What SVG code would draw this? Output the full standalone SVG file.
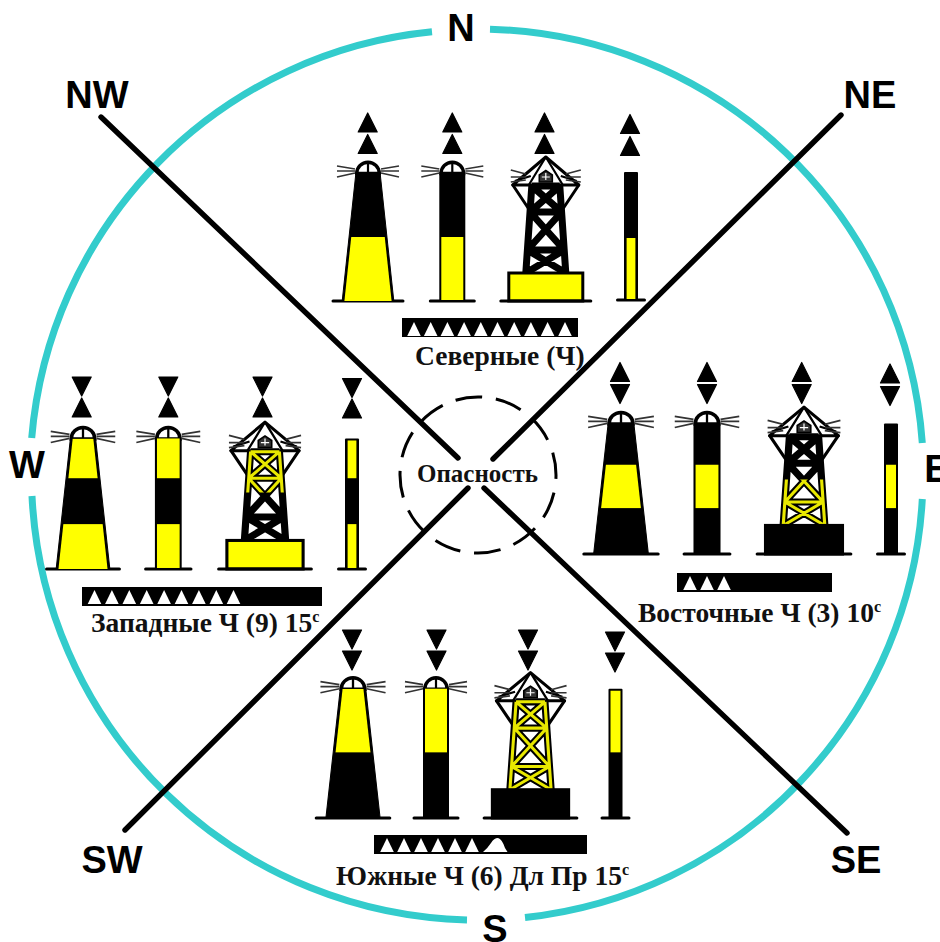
<svg xmlns="http://www.w3.org/2000/svg" xmlns:xlink="http://www.w3.org/1999/xlink" width="940" height="942" viewBox="0 0 940 942">
<style>
.ring{fill:none;stroke:#33cccc;stroke-width:7}
.ray{fill:none;stroke:#333;stroke-width:1.7}
.line{fill:none;stroke:#000;stroke-width:5.4;stroke-linecap:round}
.base{fill:none;stroke:#000;stroke-width:3;stroke-linecap:round}
.y{fill:#ffff00}
.k{fill:#000}
.w{fill:#fff}
.mark{fill:#000;stroke:#000;stroke-width:1.2;stroke-linejoin:round}
.dir{font-family:"Liberation Sans",Arial,sans-serif;font-weight:700;font-size:38px;fill:#000;text-anchor:middle}
.cap{font-family:"Liberation Serif","Times New Roman",serif;font-weight:700;font-size:27.5px;fill:#111}
.mid{font-size:25px}
.sup{font-size:16px}
</style>
<defs>
<polygon id="up" class="mark" points="0,-19 9.5,0 -9.5,0"/>
<polygon id="down" class="mark" points="0,19 9.5,0 -9.5,0"/>
<polygon id="fl" class="w" points="0,-14 6.8,0 -6.8,0"/>
<clipPath id="coneClip"><polygon points="-23.6,0 -9.9,-128 9.9,-128 23.6,0"/></clipPath>
<clipPath id="towerE"><rect x="-40" y="-73" width="80" height="45"/></clipPath>
<clipPath id="towerW"><rect x="-40" y="-118" width="80" height="43"/></clipPath>
<g id="dome">
<path d="M-11.3,-127.5A11.3,11.3 0 0 1 11.3,-127.5Z" fill="#fff" stroke="#000" stroke-width="3.4"/>
<path d="M0,-139V-128" stroke="#000" stroke-width="2.2"/>
<path class="ray" d="M-13,-132L-31,-135M-13,-130H-31M-13,-128L-31,-124M13,-132L31,-135M13,-130H31M13,-128L31,-124"/>
</g>
<g id="cone"><path class="k" stroke="#000" d="M-25.8,0L-12,-129H12L25.8,0Z"/><use href="#dome"/><path class="base" d="M-35,0H35"/></g>
<g id="spar"><rect class="k" x="-13" y="-129" width="26" height="129"/><use href="#dome"/><path class="base" d="M-22,0H22"/></g>
<g id="pole"><rect class="k" x="-7" y="-128" width="14" height="128" rx="1"/><path class="base" d="M-13.5,0H13.5"/></g>
<path id="lat" fill="none" d="M-20,-28L-14,-115M20,-28L14,-115M-14,-115H14M-15.8,-89H15.8M-18.4,-51H18.4M-14,-115L15.8,-89M14,-115L-15.8,-89M-15.8,-89L18.4,-51M15.8,-89L-18.4,-51M-18.4,-51L20,-28M18.4,-51L-20,-28"/>
<g id="top">
<path d="M0,-144L-33,-116H33Z" fill="#fff" stroke="#000" stroke-width="3" stroke-linejoin="round"/>
<path d="M-33,-116L-17,-92M33,-116L17,-92" stroke="#000" stroke-width="3" stroke-linecap="round"/>
<path d="M0,-144L-17,-116M0,-144L17,-116M-31,-120L-15,-125M31,-120L15,-125" stroke="#000" stroke-width="2.2" fill="none"/>
<path class="ray" d="M-20,-127L-35,-131M-20,-124H-35M-20,-121L-35,-119M20,-127L35,-131M20,-124H35M20,-121L35,-119"/>
<path d="M-6.5,-119V-126L0,-130.5L6.5,-126V-119Z" fill="#333" stroke="#000" stroke-width="1.6"/>
<path d="M-4,-124H4M0,-128V-121" stroke="#fff" stroke-width="1.2"/>
</g>
<g id="lattice"><use href="#top"/><use href="#lat" stroke="#000" stroke-width="7"/></g>
<use id="latY" href="#lat" stroke="#e8e800" stroke-width="3"/>
</defs>

<g id="ring">
<path class="ring" d="M490,29.2A445.5,445.5 0 0 1 922.3,443M922.3,499A445.5,445.5 0 0 1 525,917.5M467,919.9A445.5,445.5 0 0 1 32,496M31.7,438A445.5,445.5 0 0 1 432,31.8"/>
</g>
<g id="connectors">
<path class="line" d="M101,117L458,458M484,488L847,833M841,115L493,459M468,488L125,830"/>
</g>
<g id="danger">
<circle cx="478" cy="475" r="78" fill="none" stroke="#000" stroke-width="3" stroke-dasharray="27 13.8" stroke-dashoffset="23"/>
<text class="cap mid" x="417" y="482">Опасность</text>
</g>

<g id="north">
<g id="n-marks">
<use href="#up" x="367.7" y="132"/><use href="#up" x="367.7" y="153.5"/>
<use href="#up" x="452.3" y="132"/><use href="#up" x="452.3" y="153.5"/>
<use href="#up" x="544.5" y="132"/><use href="#up" x="544.5" y="153.5"/>
<use href="#up" x="630" y="133.5"/><use href="#up" x="630" y="155.5"/>
</g>
<g id="n-cone" transform="translate(368,301)"><use href="#cone"/><rect class="y" clip-path="url(#coneClip)" x="-30" y="-64" width="60" height="64"/></g>
<g id="n-spar" transform="translate(452.3,301)"><use href="#spar"/><rect class="y" x="-11" y="-64" width="22" height="63"/></g>
<g id="n-tower" transform="translate(545.8,301)"><use href="#lattice"/><rect class="y" x="-37" y="-28" width="74" height="28" stroke="#000" stroke-width="3"/><path class="base" d="M-45,0H45"/></g>
<g id="n-pole" transform="translate(631,300)"><use href="#pole"/><rect class="y" x="-4.4" y="-62" width="8.8" height="61"/></g>
<g id="n-flash">
<rect class="k" x="402" y="318" width="176" height="19"/>
<use href="#fl" x="414" y="336"/><use href="#fl" x="430.7" y="336"/><use href="#fl" x="447.4" y="336"/><use href="#fl" x="464.1" y="336"/><use href="#fl" x="480.8" y="336"/><use href="#fl" x="497.5" y="336"/><use href="#fl" x="514.2" y="336"/><use href="#fl" x="530.9" y="336"/><use href="#fl" x="547.6" y="336"/><use href="#fl" x="565" y="336"/>
</g>
<text class="cap" x="415" y="365">Северные (Ч)</text>
</g>

<g id="east">
<g id="e-marks">
<use href="#up" x="620" y="381.5"/><use href="#down" x="620" y="384.5"/>
<use href="#up" x="707" y="381.5"/><use href="#down" x="707" y="384.5"/>
<use href="#up" x="801.7" y="381.5"/><use href="#down" x="801.7" y="384.5"/>
<use href="#up" x="890" y="383"/><use href="#down" x="890" y="386.5"/>
</g>
<g id="e-cone" transform="translate(621,554) scale(1.06,1.02)"><use href="#cone"/><rect class="y" clip-path="url(#coneClip)" x="-30" y="-87.5" width="60" height="42.5"/></g>
<g id="e-spar" transform="translate(707,554) scale(1.04,1.02)"><use href="#spar"/><rect class="y" x="-11" y="-87.5" width="22" height="42.5"/></g>
<g id="e-tower" transform="translate(804,554) scale(1.04,1.02)"><use href="#lattice"/><use href="#latY" clip-path="url(#towerE)"/><rect class="k" x="-37" y="-28" width="74" height="28" stroke="#000" stroke-width="3"/><path class="base" d="M-45,0H45"/></g>
<g id="e-pole" transform="translate(891,554) scale(1,1.02)"><use href="#pole"/><rect class="y" x="-5" y="-87.5" width="10" height="42.5"/></g>
<g id="e-flash">
<rect class="k" x="677" y="573" width="155" height="19"/>
<use href="#fl" x="690" y="590"/><use href="#fl" x="707" y="590"/><use href="#fl" x="724" y="590"/>
</g>
<text class="cap" x="638" y="622">Восточные Ч (3) 10<tspan class="sup" dy="-10">с</tspan></text>
</g>

<g id="west">
<g id="w-marks">
<use href="#down" x="81.7" y="377"/><use href="#up" x="81.7" y="417"/>
<use href="#down" x="168.3" y="377"/><use href="#up" x="168.3" y="417"/>
<use href="#down" x="262.5" y="377"/><use href="#up" x="262.5" y="417"/>
<use href="#down" x="352" y="378.5"/><use href="#up" x="352" y="418"/>
</g>
<g id="w-cone" transform="translate(83,569) scale(1.04,1.02)"><use href="#cone"/><rect class="y" clip-path="url(#coneClip)" x="-30" y="-128" width="60" height="39"/><rect class="y" clip-path="url(#coneClip)" x="-30" y="-44" width="60" height="44"/></g>
<g id="w-spar" transform="translate(168.3,569) scale(1.03,1.02)"><use href="#spar"/><rect class="y" x="-11" y="-128" width="22" height="39"/><rect class="y" x="-11" y="-44" width="22" height="43"/></g>
<g id="w-tower" transform="translate(265,569) scale(1.03,1.02)"><use href="#lattice"/><use href="#latY" clip-path="url(#towerW)"/><rect class="y" x="-37" y="-28" width="74" height="28" stroke="#000" stroke-width="3"/><path class="base" d="M-45,0H45"/></g>
<g id="w-pole" transform="translate(352,569) scale(1,1.02)"><use href="#pole"/><rect class="y" x="-4.4" y="-126" width="8.8" height="37"/><rect class="y" x="-4.4" y="-44" width="8.8" height="43"/></g>
<g id="w-flash">
<rect class="k" x="82" y="587" width="240" height="19"/>
<use href="#fl" x="94.5" y="604"/><use href="#fl" x="111.9" y="604"/><use href="#fl" x="129.3" y="604"/><use href="#fl" x="146.7" y="604"/><use href="#fl" x="164.1" y="604"/><use href="#fl" x="181.5" y="604"/><use href="#fl" x="198.9" y="604"/><use href="#fl" x="216.3" y="604"/><use href="#fl" x="233.5" y="604"/>
</g>
<text class="cap" x="91" y="632">Западные Ч (9) 15<tspan class="sup" dy="-10">с</tspan></text>
</g>

<g id="south">
<g id="s-marks">
<use href="#down" x="352" y="630"/><use href="#down" x="352" y="651"/>
<use href="#down" x="436.5" y="630"/><use href="#down" x="436.5" y="651"/>
<use href="#down" x="528" y="630"/><use href="#down" x="528" y="651"/>
<use href="#down" x="615" y="632"/><use href="#down" x="615" y="653"/>
</g>
<g id="s-cone" transform="translate(353,818) scale(1.05,1.01)"><use href="#cone"/><rect class="y" clip-path="url(#coneClip)" x="-30" y="-128" width="60" height="63"/></g>
<g id="s-spar" transform="translate(436,818) scale(1,1.01)"><use href="#spar"/><rect class="y" x="-11" y="-128" width="22" height="63"/></g>
<g id="s-tower" transform="translate(530.5,818) scale(1.03,1.01)"><use href="#lattice"/><use href="#latY"/><rect class="k" x="-37" y="-28" width="74" height="28" stroke="#000" stroke-width="3"/><path class="base" d="M-45,0H45"/></g>
<g id="s-pole" transform="translate(615.5,818) scale(1,1.01)"><use href="#pole"/><rect class="y" x="-5" y="-126" width="10" height="61"/></g>
<g id="s-flash">
<rect class="k" x="374" y="835" width="213" height="19"/>
<use href="#fl" x="387" y="852"/><use href="#fl" x="404" y="852"/><use href="#fl" x="421" y="852"/><use href="#fl" x="438" y="852"/><use href="#fl" x="455" y="852"/><use href="#fl" x="472" y="852"/>
<path class="w" d="M483,852Q487,849 491,843Q494,838 498,838Q502,839 505,848L507.5,852Z"/>
</g>
<text class="cap" x="336" y="885">Южные Ч (6) Дл Пр 15<tspan class="sup" dy="-10">с</tspan></text>
</g>

<g id="labels">
<text class="dir" x="461" y="41">N</text>
<text class="dir" x="97" y="108">NW</text>
<text class="dir" x="870" y="108">NE</text>
<text class="dir" x="27" y="478">W</text>
<text class="dir" x="937" y="482">E</text>
<text class="dir" x="112" y="873">SW</text>
<text class="dir" x="856" y="873">SE</text>
<text class="dir" x="495" y="942">S</text>
</g>
</svg>
